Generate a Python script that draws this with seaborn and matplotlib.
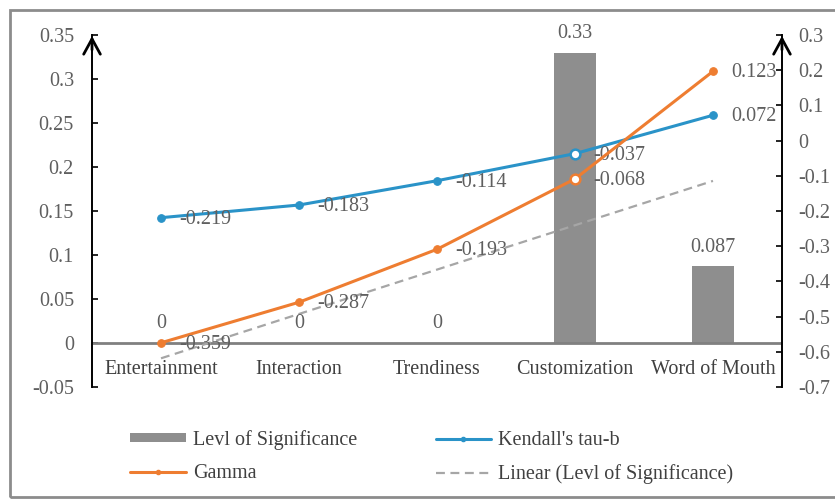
import numpy as np
import pandas as pd
import matplotlib
matplotlib.use("Agg")
import matplotlib.pyplot as plt
from matplotlib.patches import Rectangle, Patch
from matplotlib.lines import Line2D
import seaborn as sns

# ---- data ----
categories = ["Entertainment", "Interaction", "Trendiness", "Customization", "Word of Mouth"]
significance = [0, 0, 0, 0.33, 0.087]
kendall_tau_b = [-0.219, -0.183, -0.114, -0.037, 0.072]
gamma = [-0.359, -0.287, -0.193, -0.068, 0.123]
left_ticks = [-0.05, 0, 0.05, 0.1, 0.15, 0.2, 0.25, 0.3, 0.35]
right_ticks = [-0.7, -0.6, -0.5, -0.4, -0.3, -0.2, -0.1, 0, 0.1, 0.2, 0.3]

sns.set_theme(style="white")
plt.rcParams["font.family"] = ["Liberation Serif", "DejaVu Serif"]
plt.rcParams["axes.unicode_minus"] = False

FS = 14.5
TXT = "#5f5f5f"
BAR = "#8e8e8e"
BLUE = "#2a93c8"
ORANGE = "#ee7d31"
TREND = "#a6a6a6"

df = pd.DataFrame({"category": categories, "significance": significance,
                   "kendall": kendall_tau_b, "gamma": gamma})
pos = np.arange(len(categories))
df["pos"] = pos

fig = plt.figure(figsize=(8.35, 5.0), dpi=100)
fig.patch.set_facecolor("white")
ax = fig.add_axes([0.1102, 0.226, 0.8263, 0.704])

# bars: level of significance (left axis)
sns.barplot(data=df, x="pos", y="significance", ax=ax, color=BAR,
            width=0.3, saturation=1, native_scale=True, edgecolor="none")
ax.set_xlim(-0.5, len(categories) - 0.5)
ax.set_ylim(-0.05, 0.35)
ax.set_xlabel("")
ax.set_ylabel("")
ax.set_xticks([])
ax.set_yticks(left_ticks)
ax.set_yticklabels([f"{v:g}" for v in left_ticks])
ax.tick_params(axis="y", direction="in", length=4, width=1.2, color="black",
               labelsize=FS, labelcolor=TXT, pad=13, left=True)
ax.grid(False)
for s in ["top", "right", "bottom"]:
    ax.spines[s].set_visible(False)
ax.spines["left"].set_color("black")
ax.spines["left"].set_linewidth(1.4)

# zero baseline
ax.axhline(0, color="#808080", lw=2, zorder=1)

# linear trend of significance
coef = np.polyfit(pos, significance, 1)
trend = np.polyval(coef, pos)
sns.lineplot(x=pos, y=trend, ax=ax, color=TREND, lw=1.6, zorder=2)
ax.lines[-1].set_dashes((4, 2.5))

# bar value labels
for x, v in zip(pos, significance):
    ax.annotate(f"{v:g}", (x, v), xytext=(0, 7), textcoords="offset points",
                ha="center", va="bottom", fontsize=FS, color=TXT)

# category labels just under the zero line
for x, c in zip(pos, categories):
    ax.annotate(c, (x, 0), xytext=(0, -12), textcoords="offset points",
                ha="center", va="top", fontsize=FS, color="#404040")

# Kendall's tau-b (right axis)
ax2 = ax.twinx()
ax2.set_position(ax.get_position())
sns.lineplot(data=df, x="pos", y="kendall", ax=ax2, color=BLUE, lw=2.2,
             marker="o", markersize=5.5, markeredgecolor=BLUE, zorder=5)
ax2.set_ylim(-0.7, 0.3)
ax2.set_yticks(right_ticks)
ax2.set_yticklabels([f"{v:g}" for v in right_ticks])
ax2.tick_params(axis="y", direction="in", length=4, width=1.2, color="black",
                labelsize=FS, labelcolor=TXT, pad=12, right=True)
ax2.set_ylabel("")
ax2.set_xlabel("")
ax2.grid(False)
for s in ["top", "left", "bottom"]:
    ax2.spines[s].set_visible(False)
ax2.spines["right"].set_color("black")
ax2.spines["right"].set_linewidth(1.4)

# Gamma on its own hidden scale sharing the zero level
ax3 = ax.twinx()
ax3.set_position(ax.get_position())
sns.lineplot(data=df, x="pos", y="gamma", ax=ax3, color=ORANGE, lw=2.2,
             marker="o", markersize=5.5, markeredgecolor=ORANGE, zorder=5)
ax3.set_ylim(-0.7 / 1.6, 0.3 / 1.6)
ax3.axis("off")

# highlighted points at Customization
ax2.plot([pos[3]], [kendall_tau_b[3]], "o", ms=7, mfc="white", mec=BLUE, mew=1.8, zorder=6)
ax3.plot([pos[3]], [gamma[3]], "o", ms=7, mfc="white", mec=ORANGE, mew=1.8, zorder=6)

for x, v in zip(pos, kendall_tau_b):
    ax2.annotate(f"{v:g}", (x, v), xytext=(13, -1), textcoords="offset points",
                 ha="left", va="center", fontsize=FS, color=TXT, zorder=7)
for x, v in zip(pos, gamma):
    ax3.annotate(f"{v:g}", (x, v), xytext=(13, -1), textcoords="offset points",
                 ha="left", va="center", fontsize=FS, color=TXT, zorder=7)

for a in (ax, ax2, ax3):
    a.set_xlim(-0.5, len(categories) - 0.5)
    a.patch.set_alpha(0)

# open arrowheads on top of both value axes
for xf in (0, 1):
    ax.annotate("", xy=(xf, 1.005), xytext=(xf, 0.95), xycoords="axes fraction",
                arrowprops=dict(arrowstyle="->,head_length=0.55,head_width=0.3",
                                color="black", lw=2.0, mutation_scale=20))

# legend
handles = [
    Patch(facecolor=BAR, edgecolor="none"),
    Line2D([], [], color=ORANGE, lw=2.2, marker="o", ms=3),
    Line2D([], [], color=BLUE, lw=2.2, marker="o", ms=3),
    Line2D([], [], color=TREND, lw=1.6, dashes=(4, 2.5)),
]
labels = ["Levl of Significance", "Gamma", "Kendall's tau-b",
          "Linear (Levl of Significance)"]
leg = fig.legend(handles, labels, ncol=2, loc="center",
                 bbox_to_anchor=(0.517, 0.086), frameon=False, fontsize=FS,
                 handlelength=2.75, handleheight=0.35, handletextpad=0.35,
                 columnspacing=3.9, labelspacing=0.72, borderpad=0)
for t in leg.get_texts():
    t.set_color("#404040")

# outer frame (runs past the right edge)
fig.patches.append(Rectangle((10 / 835, 3 / 500), 840 / 835, 487 / 500,
                             transform=fig.transFigure, fill=False,
                             edgecolor="#8c8c8c", lw=2))

fig.savefig("out.png", dpi=100)
